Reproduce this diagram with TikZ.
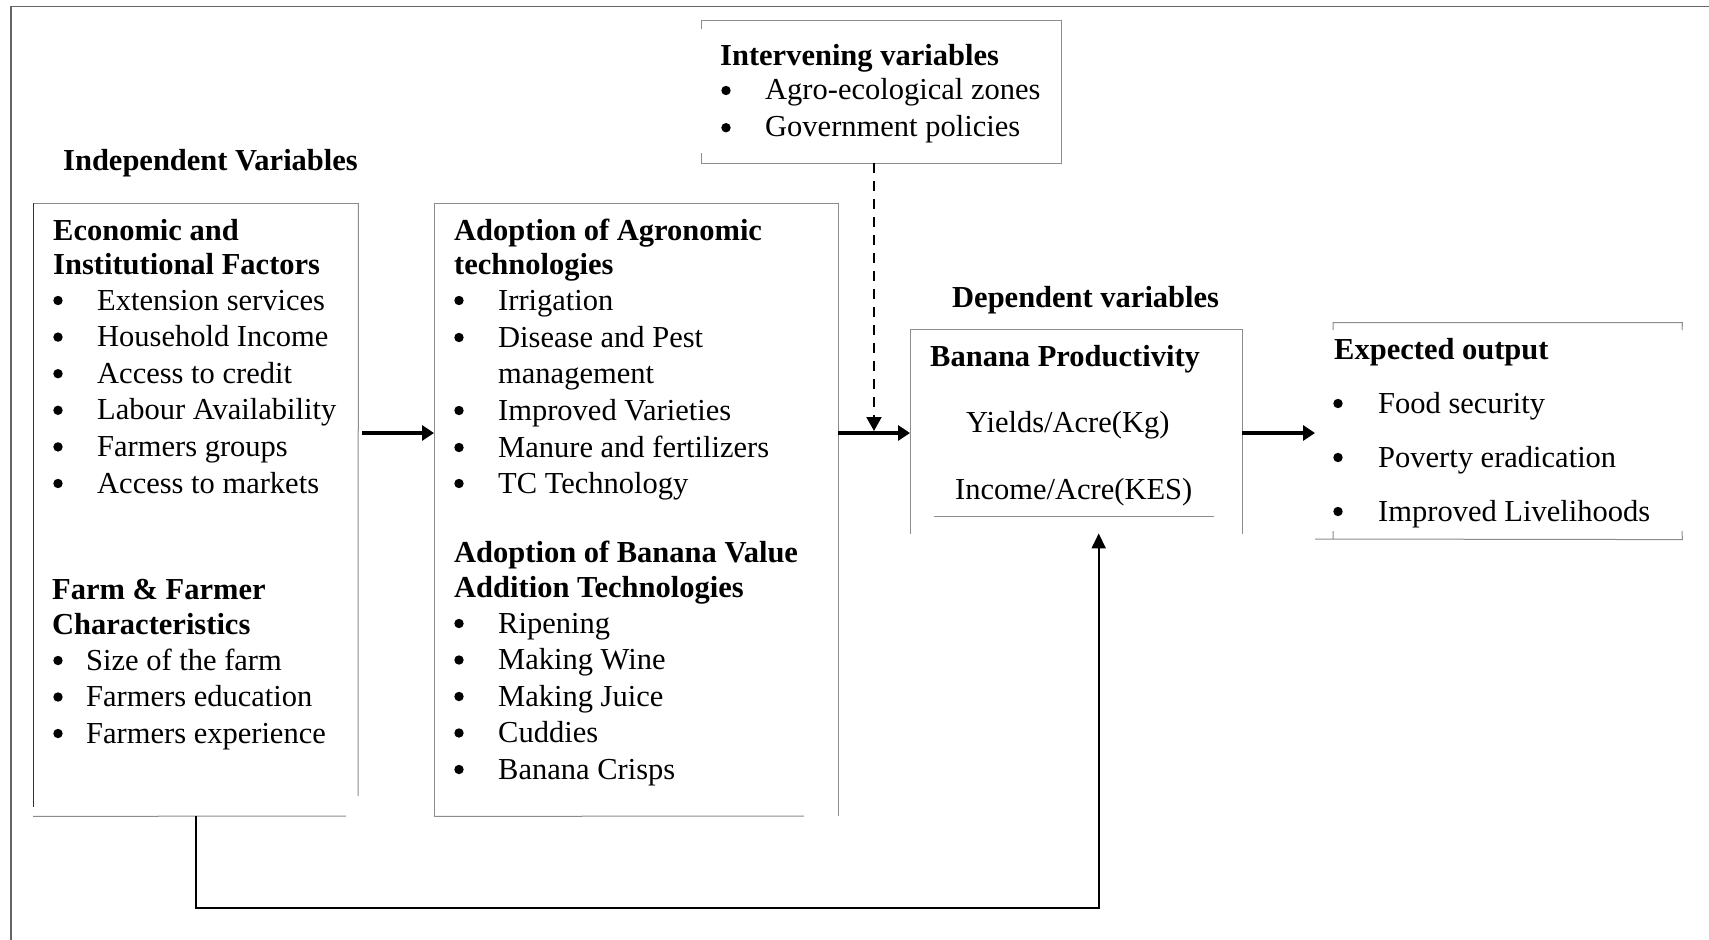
\documentclass[tikz,border=0pt]{standalone}
\usepackage{fontspec}
\setmainfont{Liberation Serif}
\usetikzlibrary{arrows.meta}
\begin{document}
\begin{tikzpicture}[x=1pt,y=-1pt,
  txt/.style={anchor=base west, inner sep=0pt, font=\fontsize{30.5}{36}\selectfont},
  hd/.style={anchor=base west, inner sep=0pt, font=\fontsize{30.5}{36}\selectfont\bfseries},
  bul/.style={circle, fill=black, inner sep=0pt, minimum size=9.4pt},
  boxarea/.style={inner sep=0pt, anchor=north west},
  border/.style={draw=black!45, line width=1pt},
  outerframe/.style={draw=black!60, line width=1.6pt},
  arr/.style={line width=3.5pt, -{Triangle[length=12pt,width=15pt]}},
  dasharr/.style={line width=2pt, dash pattern=on 10pt off 8pt, -{Triangle[length=14pt,width=15pt]}},
  fbarr/.style={line width=2pt, -{Triangle[length=15pt,width=14pt]}}
]
\useasboundingbox (0,0) rectangle (1709,940);
\fill[white] (0,0) rectangle (1709,940);

% outer frame (top and left only)
\draw[outerframe] (11,940) -- (11,6.5) -- (1709,6.5);

% box areas
\node[boxarea, minimum width=325pt, minimum height=613pt] (econ) at (33,203) {};
\node[boxarea, minimum width=404pt, minimum height=613pt] (agro) at (434,203) {};
\node[boxarea, minimum width=360pt, minimum height=142pt] (interv) at (701.5,20.7) {};
\node[boxarea, minimum width=332pt, minimum height=205pt] (banana) at (910,329) {};
\node[boxarea, minimum width=349pt, minimum height=216.5pt] (expect) at (1333,322.7) {};

% borders: economic box
\draw[border] (econ.north west) -- (econ.north east);
\draw[border, draw=black!80] (econ.north west) -- (33,807);
\draw[border] (econ.north east) -- (358,796);
\draw[border] (econ.south west) -- (346,816);
% borders: agro box
\draw[border] (agro.south west) -- (agro.north west) -- (agro.north east) -- (agro.south east);
\draw[border] (agro.south west) -- (804,816);
% borders: intervening box
\draw[border] (701.5,29.3) -- (interv.north west) -- (interv.north east) -- (interv.south east) -- (interv.south west) -- (701.5,153);
% borders: banana box
\draw[border] (banana.south west) -- (banana.north west) -- (banana.north east) -- (banana.south east);
\draw[border] (934,516) -- (1214,516);
% borders: expected box
\draw[border] (1333,330) -- (expect.north west) -- (expect.north east) -- (1682,330);
\draw[border] (1333,531) -- (1333,539) (1315,539) -- (expect.south east) -- (1682,531);

% headings
\node[hd] (indep) at (63,170) {Independent Variables};
\node[hd] (econ-h1) at (53,240) {Economic and};
\node[hd] (econ-h2) at (53,274) {Institutional Factors};
\node[hd] (farm-h1) at (52,599) {Farm \& Farmer};
\node[hd] (farm-h2) at (52,634) {Characteristics};
\node[hd] (agro-h1) at (454,240) {Adoption of Agronomic};
\node[hd] (agro-h2) at (454,274) {technologies};
\node[hd] (val-h1) at (454,562) {Adoption of Banana Value};
\node[hd] (val-h2) at (454,597) {Addition Technologies};
\node[hd] (interv-h) at (720,65) {Intervening variables};
\node[hd] (dep-h) at (952,307) {Dependent variables};
\node[hd] (ban-h) at (930,366) {Banana Productivity};
\node[hd] (exp-h) at (1334,359) {Expected output};

% economic items
\foreach \t [count=\i from 0] in {Extension services, Household Income, Access to credit, Labour Availability, Farmers groups, Access to markets}{
  \node[bul] (eb\i) at (58,300.5+36.6*\i) {};
  \node[txt] (et\i) at (97,310+36.6*\i) {\t};
}
% farm items
\foreach \t [count=\i from 0] in {Size of the farm, Farmers education, Farmers experience}{
  \node[bul] (fb\i) at (58,660.5+36.5*\i) {};
  \node[txt] (ft\i) at (86,670+36.5*\i) {\t};
}
% agronomic items
\node[bul] (ab0) at (459,300.5) {};
\node[txt] (at0) at (498,310) {Irrigation};
\node[bul] (ab1) at (459,337.5) {};
\node[txt] (at1) at (498,347) {Disease and Pest};
\node[txt] (at1b) at (498,383) {management};
\node[bul] (ab2) at (459,410.5) {};
\node[txt] (at2) at (498,420) {Improved Varieties};
\node[bul] (ab3) at (459,447.5) {};
\node[txt] (at3) at (498,457) {Manure and fertilizers};
\node[bul] (ab4) at (459,483.5) {};
\node[txt] (at4) at (498,493) {TC Technology};
% value addition items
\foreach \t [count=\i from 0] in {Ripening, Making Wine, Making Juice, Cuddies, Banana Crisps}{
  \node[bul] (vb\i) at (459,623.5+36.5*\i) {};
  \node[txt] (vt\i) at (498,633+36.5*\i) {\t};
}
% intervening items
\node[bul] (ib0) at (726,90.5) {};
\node[txt] (it0) at (765,99.5) {Agro-ecological zones};
\node[bul] (ib1) at (726,127.7) {};
\node[txt] (it1) at (765,136.7) {Government policies};
% banana items
\node[txt] (bt0) at (966,432) {Yields/Acre(Kg)};
\node[txt] (bt1) at (955,499) {Income/Acre(KES)};
% expected items
\foreach \t [count=\i from 0] in {Food security, Poverty eradication, Improved Livelihoods}{
  \node[bul] (xb\i) at (1338,403.5+54*\i) {};
  \node[txt] (xt\i) at (1378,413+54*\i) {\t};
}

% connectors
\coordinate (row) at (0,433);
\coordinate (dtip) at (874,431);
\coordinate (fbc) at (1098.7,907.7);
\draw[arr, shorten <=4pt] (econ.east |- row) -- (agro.west |- row);
\draw[arr] (agro.east |- row) -- (banana.west |- row);
\draw[arr, shorten >=18pt] (banana.east |- row) -- (expect.west |- row);
\draw[dasharr] (interv.south -| dtip) -- (dtip);
\draw[fbarr] (econ.south) -- (econ.south |- fbc) -- (fbc) -- ([yshift=1pt]fbc |- banana.south);
\end{tikzpicture}
\end{document}
